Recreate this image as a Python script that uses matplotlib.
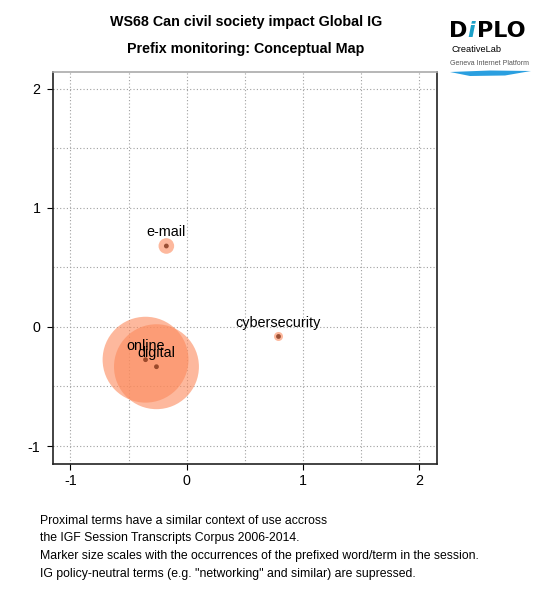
import matplotlib
matplotlib.use('Agg')
import matplotlib.pyplot as plt
from matplotlib.ticker import MultipleLocator
from matplotlib.patches import Polygon

plt.rcParams['font.family'] = ['Liberation Sans', 'DejaVu Sans']
plt.rcParams['axes.unicode_minus'] = False

# terms on the conceptual map
terms = ['e-mail', 'cybersecurity', 'online', 'digital']
x = [-0.175, 0.79, -0.354, -0.26]
y = [0.68, -0.08, -0.275, -0.334]
occurrences = [3, 1, 91, 89]

notes = [
    'Proximal terms have a similar context of use accross',
    'the IGF Session Transcripts Corpus 2006-2014.',
    'Marker size scales with the occurrences of the prefixed word/term in the session.',
    'IG policy-neutral terms (e.g. "networking" and similar) are supressed.',
]

fig = plt.figure(figsize=(5.5, 6.0), dpi=100)
ax = fig.add_axes([0.0964, 0.2267, 0.698, 0.654])

sizes = [42 * n for n in occurrences]
ax.scatter(x, y, s=sizes, color='#FC8A5C', alpha=0.6, edgecolors='none', zorder=2)
ax.scatter(x, y, s=12, color='#7B2E12', alpha=0.75, edgecolors='none', zorder=3)

for t, xi, yi in zip(terms, x, y):
    ax.annotate(t, (xi, yi), xytext=(0, 7), textcoords='offset points',
                ha='center', va='baseline', fontsize=10.4, zorder=4)

ax.set_xlim(-1.15, 2.153)
ax.set_ylim(-1.151, 2.145)
ax.xaxis.set_major_locator(MultipleLocator(1))
ax.yaxis.set_major_locator(MultipleLocator(1))
ax.xaxis.set_minor_locator(MultipleLocator(0.5))
ax.yaxis.set_minor_locator(MultipleLocator(0.5))
ax.grid(True, which='both', linestyle=(0, (1, 2)), color='#a0a0a0', linewidth=0.8)
ax.set_axisbelow(True)
ax.tick_params(which='major', direction='out', length=4, labelsize=10.3)
ax.tick_params(axis='x', pad=3)
ax.tick_params(axis='y', pad=5)
ax.tick_params(which='minor', length=0)

for side in ['left', 'bottom', 'right']:
    ax.spines[side].set_color('#222222')
    ax.spines[side].set_linewidth(1.2)
ax.spines['top'].set_color('#aaaaaa')
ax.spines['top'].set_linewidth(1.2)

fig.text(0.447, 1 - 21.7 / 600, 'WS68 Can civil society impact Global IG',
         ha='center', va='center', fontsize=10.3, fontweight='bold')
fig.text(0.447, 1 - 48.5 / 600, 'Prefix monitoring: Conceptual Map',
         ha='center', va='center', fontsize=10.3, fontweight='bold')

for i, line in enumerate(notes):
    fig.text(40 / 550, 1 - (521 + i * 17.5) / 600, line,
             ha='left', va='center', fontsize=8.8)

# DiPLO logo
logo = dict(va='center', fontsize=16, fontweight='bold', family='DejaVu Sans')
fig.text(449 / 550, 1 - 31 / 600, 'D', ha='left', **logo)
fig.text(467 / 550, 1 - 31 / 600, 'i', ha='left', style='italic',
         color='#1BA0C8', **logo)
fig.text(477 / 550, 1 - 31 / 600, 'PLO', ha='left', **logo)
fig.text(451 / 550, 1 - 50 / 600, 'CreativeLab', ha='left', va='center',
         fontsize=6.7)
fig.text(450 / 550, 1 - 63.5 / 600, 'Geneva Internet Platform', ha='left',
         va='center', fontsize=5.0, color='#555555')
swoosh = [(450, 72), (490, 70.5), (531, 71), (505, 75.5), (470, 76)]
fig.patches.append(Polygon([(px / 550, 1 - py / 600) for px, py in swoosh],
                           closed=True, transform=fig.transFigure,
                           facecolor='#2A9FE0', edgecolor='none'))

fig.savefig('out.png', dpi=100)
